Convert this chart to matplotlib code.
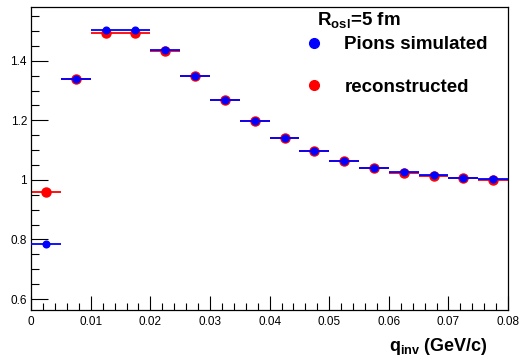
import numpy as np
import matplotlib
matplotlib.use("Agg")
import matplotlib.pyplot as plt
from matplotlib.lines import Line2D
from matplotlib.ticker import MultipleLocator

plt.rcParams['font.family'] = ['Liberation Sans', 'DejaVu Sans']
plt.rcParams['mathtext.fontset'] = 'custom'
plt.rcParams['mathtext.rm'] = 'Liberation Sans'
plt.rcParams['mathtext.bf'] = 'Liberation Sans:bold'
plt.rcParams['mathtext.default'] = 'bf'

# bin centres of q_inv (GeV/c), bin width 0.005
q = [0.0025, 0.0075, 0.0125, 0.0175, 0.0225, 0.0275, 0.0325, 0.0375,
     0.0425, 0.0475, 0.0525, 0.0575, 0.0625, 0.0675, 0.0725, 0.0775]
half_width = 0.0025
simulated = [0.785, 1.340, 1.502, 1.502, 1.435, 1.350, 1.268, 1.198,
             1.142, 1.097, 1.064, 1.041, 1.025, 1.015, 1.008, 1.002]
reconstructed = [0.960, 1.340, 1.492, 1.492, 1.432, 1.349, 1.268, 1.197,
                 1.141, 1.097, 1.064, 1.040, 1.023, 1.013, 1.006, 1.001]

fig = plt.figure(figsize=(5.19, 3.58), dpi=100)
ax = fig.add_axes([0.060, 0.134, 0.919, 0.846])

ax.errorbar(q, reconstructed, xerr=half_width, fmt='o', color='red',
            ms=6.5, elinewidth=1.3, capsize=0, zorder=2)
ax.errorbar(q, simulated, xerr=half_width, fmt='o', color='blue',
            ms=4.8, elinewidth=1.3, capsize=0, zorder=3)

ax.set_xlim(0, 0.08)
ax.set_ylim(0.563, 1.58)
ax.xaxis.set_major_locator(MultipleLocator(0.01))
ax.xaxis.set_minor_locator(MultipleLocator(0.002))
ax.yaxis.set_major_locator(MultipleLocator(0.2))
ax.yaxis.set_minor_locator(MultipleLocator(0.05))
ax.xaxis.set_major_formatter(plt.FuncFormatter(lambda v, p: '0' if abs(v) < 1e-9 else f'{v:g}'))
ax.yaxis.set_major_formatter(plt.FuncFormatter(lambda v, p: f'{v:g}'))
ax.tick_params(which='both', direction='in', top=False, right=False, labelsize=8.5, width=0.8)
ax.tick_params(axis='x', which='major', length=10, pad=4)
ax.tick_params(axis='x', which='minor', length=5)
ax.tick_params(axis='y', which='major', length=12, pad=3)
ax.tick_params(axis='y', which='minor', length=6)
for s in ax.spines.values():
    s.set_linewidth(0.9)

ax.set_xlabel(r'q$_{inv}$ (GeV/c)', fontsize=13, fontweight='bold')
ax.xaxis.set_label_coords(0.958, -0.085)
ax.xaxis.label.set_ha('right')

ax.text(0.600, 0.941, r'R$_{osl}$=5 fm', transform=ax.transAxes,
        fontsize=13.5, fontweight='bold', ha='left', va='baseline')

handles = [Line2D([], [], ls='none', marker='o', color='blue', ms=7),
           Line2D([], [], ls='none', marker='o', color='red', ms=7)]
ax.legend(handles, ['Pions simulated', 'reconstructed'],
          loc='center left', bbox_to_anchor=(0.537, 0.806), frameon=False,
          prop={'weight': 'bold', 'size': 13.5},
          labelspacing=1.36, handlelength=1.0, handletextpad=1.15)

fig.savefig('out.png', dpi=100)
